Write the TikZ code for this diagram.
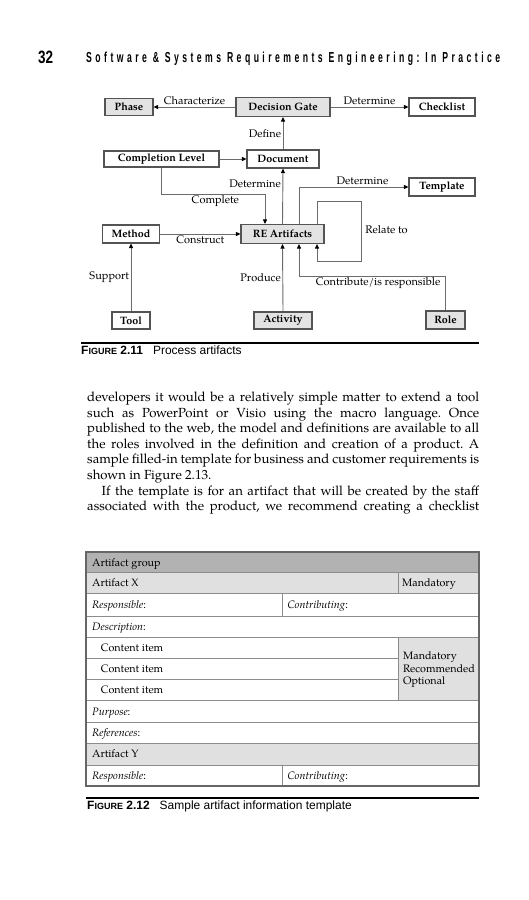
\documentclass[tikz,border=0pt]{standalone}
\usepackage{fontspec}
\usepackage{graphicx}
\setmainfont{texgyrepagella}[Extension=.otf, UprightFont=*-regular, BoldFont=*-bold, ItalicFont=*-italic, BoldItalicFont=*-bolditalic]
\newfontfamily\capfont{Liberation Sans}
\newfontfamily\hdrfont{Liberation Sans}[LetterSpace=40]
\usetikzlibrary{arrows.meta,calc}
\definecolor{boxc}{gray}{0.33}
\definecolor{linec}{gray}{0.42}
\definecolor{shadec}{gray}{0.89}
\definecolor{tabdark}{gray}{0.70}
\definecolor{tablight}{gray}{0.88}
\definecolor{tabline}{gray}{0.55}
\frenchspacing
\newcommand\bodytextfont{\fontsize{13.2}{16}\selectfont\spaceskip .25em plus .6em minus .1em\relax}
\tikzset{
  box/.style={draw=boxc, line width=1.1pt, fill=white, inner sep=0pt,
    font=\fontsize{10.7}{12}\selectfont\bfseries},
  shaded/.style={box, fill=shadec},
  conn/.style={draw=linec, line width=0.9pt, -{Triangle[length=4.5pt,width=4pt,color=black]}},
  elab/.style={font=\fontsize{11}{13}\selectfont, inner sep=1.5pt},
  body/.style={anchor=base west, inner sep=0pt, font=\bodytextfont},
  cell/.style={anchor=base west, inner sep=0pt, font=\fontsize{10.8}{13}\selectfont},
  capt/.style={anchor=base west, inner sep=0pt, font=\capfont\fontsize{12}{14}\selectfont},
  rulel/.style={line width=1.3pt, black}
}
\begin{document}
\begin{tikzpicture}[x=1pt,y=-1pt]
\useasboundingbox[fill=white] (0,0) rectangle (528,900);

% ---------- running head ----------
\node[anchor=base west, inner sep=0pt] (pnum) at (38,63)
  {\resizebox{15pt}{12.5pt}{\capfont\bfseries 32}};
\node[anchor=base west, inner sep=0pt] (rhead) at (86,62)
  {\resizebox{414pt}{10.5pt}{\hdrfont\bfseries Software \& Systems Requirements Engineering: In Practice}};

% ---------- Figure 2.11 ----------
\node[shaded, minimum width=48pt, minimum height=17pt] (phase) at (129,107) {Phase};
\node[shaded, minimum width=94pt, minimum height=19pt] (gate) at (283,107) {Decision Gate};
\node[box, minimum width=66pt, minimum height=18pt] (check) at (442,107) {Checklist};
\node[box, minimum width=115pt, minimum height=16pt] (compl) at (161.5,159) {Completion Level};
\node[box, minimum width=72pt, minimum height=18pt] (doc) at (283,159) {Document};
\node[box, minimum width=66pt, minimum height=18pt] (templ) at (442,187) {Template};
\node[shaded, minimum width=83pt, minimum height=19pt] (re) at (282.5,234) {RE Artifacts};
\node[box, minimum width=57pt, minimum height=18pt] (method) at (131,234) {Method};
\node[box, minimum width=38pt, minimum height=17pt] (tool) at (131,320.5) {Tool};
\node[shaded, minimum width=58pt, minimum height=17pt] (act) at (283,320.5) {Activity};
\node[shaded, minimum width=39pt, minimum height=18pt] (role) at (445.5,320) {Role};

\coordinate (k1) at (265,194);
\coordinate (k2) at (299,187);
\coordinate (k3) at (317,201);
\coordinate (k4) at (361,261);
\coordinate (k5) at (299,276);

\draw[conn] (gate.west) -- node[elab, above] (lchar) {Characterize} (phase.east);
\draw[conn] (gate.east) -- node[elab, above] (ldet1) {Determine} (check.west);
\draw[conn] (doc.north) -- node[elab, left] (ldef) {Define} (gate.south);
\draw[conn] (compl.east) -- (doc.west);
\draw[conn] (re.north) -- node[elab, left, pos=0.73] (ldet2) {Determine} (doc.south);
\draw[conn] (compl.south) |- node[elab, below, pos=0.76] (lcomp) {Complete} (k1) -- (k1 |- re.north);
\draw[conn] (re.north -| k2) |- node[elab, above, pos=0.79] (ldet3) {Determine} (templ.west);
\draw[conn] (re.north -| k3) -- (k3) -| node[elab, right, pos=0.74, inner sep=4pt] (lrel) {Relate to} (k4) -| (k3 |- re.south);
\draw[conn] (method.east) -- node[elab, below] (lcons) {Construct} (re.west);
\draw[conn] (tool.north) -- node[elab, left] (lsup) {Support} (method.south);
\draw[conn] (act.north) -- node[elab, left] (lprod) {Produce} (re.south);
\draw[conn] (role.north) |- node[elab, below, pos=0.73] (lcontr) {Contribute/is responsible} (k5) -- (k5 |- re.south);

\draw[rulel] (81,343) -- (479,343);
\node[capt] (cap1) at (81,354.5) {\bfseries{\fontsize{12}{14}\selectfont F}{\fontsize{9}{10}\selectfont IGURE} 2.11\hspace{10pt}\mdseries Process artifacts};

% ---------- body text ----------
\node[body] (t1) at (87,401.5) {\makebox[392pt][s]{developers it would be a relatively simple matter to extend a tool}};
\node[body] (t2) at (87,417.1) {\makebox[392pt][s]{such as PowerPoint or Visio using the macro language. Once}};
\node[body] (t3) at (87,432.7) {\makebox[392pt][s]{published to the web, the model and definitions are available to all}};
\node[body] (t4) at (87,448.3) {\makebox[392pt][s]{the roles involved in the definition and creation of a product. A}};
\node[body] (t5) at (87,463.9) {\makebox[392pt][s]{sample filled-in template for business and customer requirements is}};
\node[body] (t6) at (87,479.5) {shown in Figure 2.13.};
\node[body] (t7) at (101.5,495.1) {\makebox[377.5pt][s]{If the template is for an artifact that will be created by the staff}};
\node[body] (t8) at (87,510.7) {\makebox[392pt][s]{associated with the product, we recommend creating a checklist}};

% ---------- Figure 2.12 (table) ----------
\fill[tabdark] (86,552) rectangle (479,572.5);
\fill[tablight] (86,572.5) rectangle (479,593.5);
\fill[tablight] (398.5,637) rectangle (479,700.5);
\fill[tablight] (86,743) rectangle (479,765);
\begin{scope}[draw=tabline, line width=0.9pt]
  \foreach \yy in {572.5,593.5,616,637,700.5,722,743,765}
    \draw (86,\yy) -- (479,\yy);
  \draw (86,658) -- (398.5,658);
  \draw (86,679) -- (398.5,679);
  \draw (398.5,572.5) -- (398.5,593.5);
  \draw (398.5,637) -- (398.5,700.5);
  \draw (282.5,593.5) -- (282.5,616);
  \draw (282.5,765) -- (282.5,786);
\end{scope}
\draw[draw=black!60, line width=1.1pt] (86,552) rectangle (479,786);

\node[cell] (c1) at (92,566) {Artifact group};
\node[cell] (c2) at (92,586.8) {Artifact X};
\node[cell] (c3) at (402,586.8) {Mandatory};
\node[cell] (c4) at (92,608.5) {\textit{Responsible}:};
\node[cell] (c5) at (287.3,608.5) {\textit{Contributing}:};
\node[cell] (c6) at (92,630.3) {\textit{Description}:};
\node[cell] (c7) at (100.7,651.3) {Content item};
\node[cell] (c8) at (100.7,672.3) {Content item};
\node[cell] (c9) at (100.7,693.5) {Content item};
\node[cell] (c10) at (403,659.8) {Mandatory};
\node[cell] (c11) at (403,672.3) {Recommended};
\node[cell] (c12) at (403,684.8) {Optional};
\node[cell] (c13) at (92,715) {\textit{Purpose}:};
\node[cell] (c14) at (92,736.3) {\textit{References}:};
\node[cell] (c15) at (92,757.8) {Artifact Y};
\node[cell] (c16) at (92,779.3) {\textit{Responsible}:};
\node[cell] (c17) at (287.3,779.3) {\textit{Contributing}:};

\draw[rulel] (86,798) -- (479,798);
\node[capt] (cap2) at (87,809.5) {\bfseries{\fontsize{12}{14}\selectfont F}{\fontsize{9}{10}\selectfont IGURE} 2.12\hspace{10pt}\mdseries Sample artifact information template};
\end{tikzpicture}
\end{document}
